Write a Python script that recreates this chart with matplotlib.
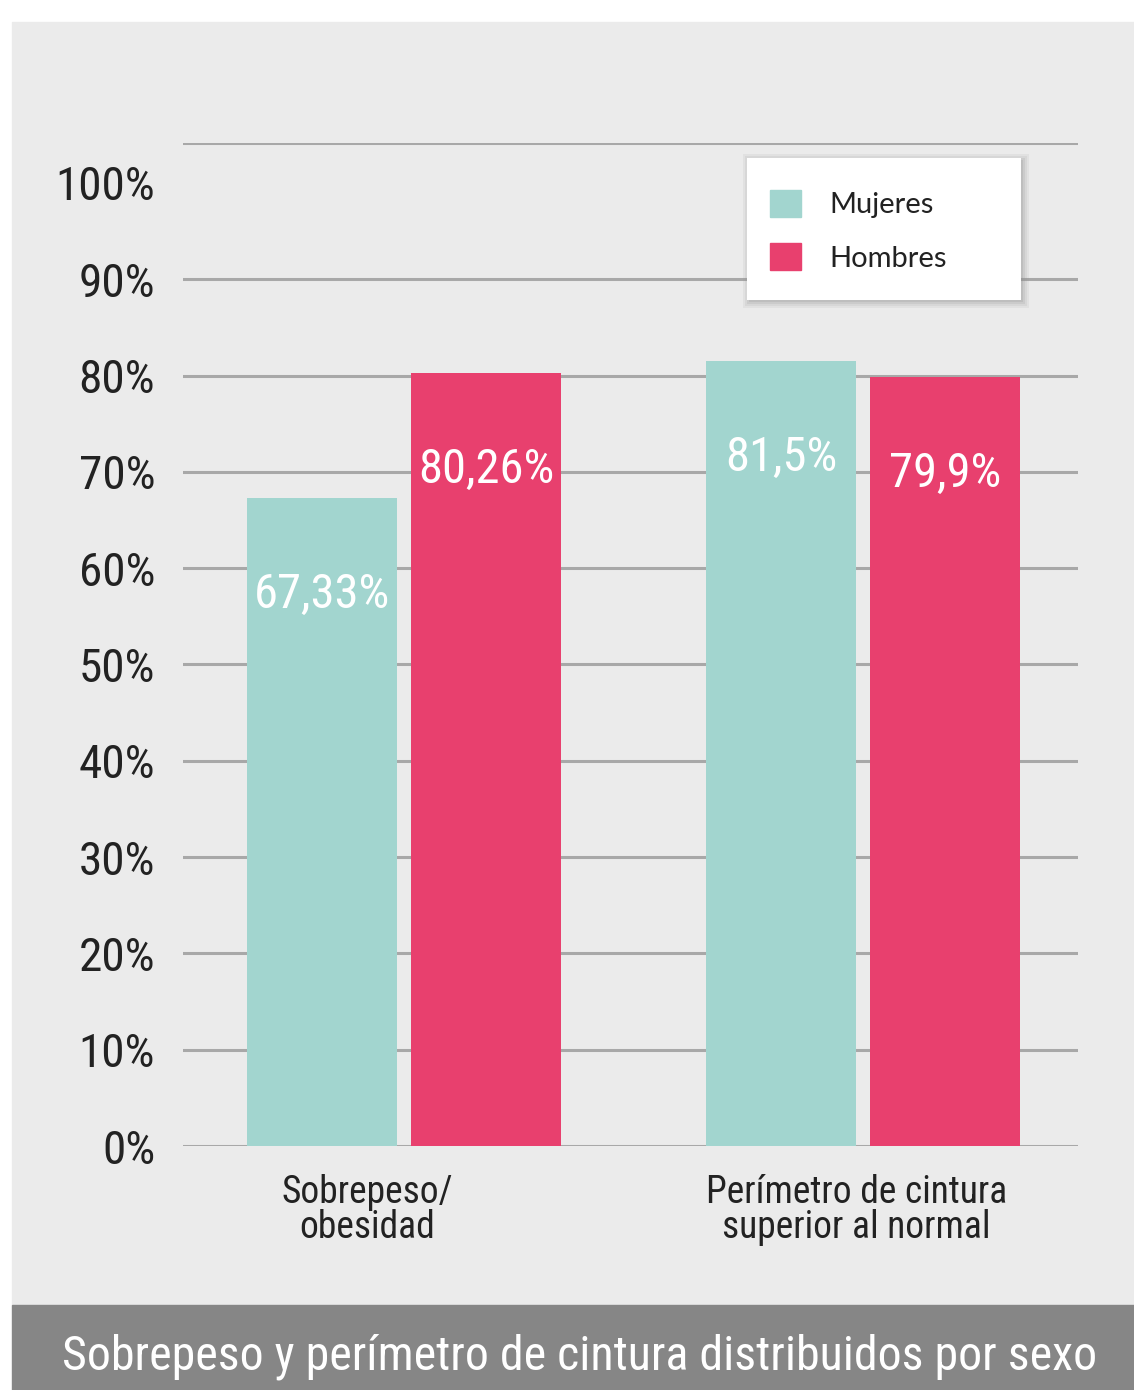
import matplotlib
matplotlib.use("Agg")
import matplotlib.pyplot as plt
from matplotlib import font_manager
from matplotlib.patches import Rectangle, Patch

# data
categorias = ["Sobrepeso/\nobesidad", "Perímetro de cintura\nsuperior al normal"]
mujeres = [67.33, 81.5]
hombres = [80.26, 79.9]
etiquetas_mujeres = ["67,33%", "81,5%"]
etiquetas_hombres = ["80,26%", "79,9%"]
yticks = [0, 10, 20, 30, 40, 50, 60, 70, 80, 90, 100]
titulo = "Sobrepeso y perímetro de cintura distribuidos por sexo"

# fonts
names = sorted({f.name for f in font_manager.fontManager.ttflist})
cond = [n for n in ["Roboto Condensed", "Liberation Sans Narrow"] if n in names]
COND = cond[0] if cond else "Roboto"

c_muj = "#a2d5cf"
c_hom = "#e8406e"
bg = "#ebebeb"
grid_c = "#a8a8a8"

W, H = 1134, 1390
fig = plt.figure(figsize=(W / 100, H / 100), dpi=100)
fig.patch.set_facecolor("white")

def fx(px):
    return px / W

def fy(py):
    return 1 - py / H

# background panel and bottom banner
fig.patches.append(Rectangle((fx(12), fy(1305)), fx(W - 12), (1305 - 22) / H,
                             transform=fig.transFigure, color=bg, zorder=-10))
fig.patches.append(Rectangle((fx(12), 0), fx(W - 12), (H - 1305) / H,
                             transform=fig.transFigure, color="#868686", zorder=-10))

ytop = 104.15
ax = fig.add_axes([fx(183), fy(1146), fx(1078 - 183), (1146 - 143) / H])
ax.set_facecolor("none")
ax.set_ylim(0, ytop)
ax.set_xlim(-0.4815, 1.468)

w = 0.327
off = 0.179
x = list(range(len(categorias)))
b1 = ax.bar([i - off for i in x], mujeres, width=w, color=c_muj, zorder=3, label="Mujeres")
b2 = ax.bar([i + off for i in x], hombres, width=w, color=c_hom, zorder=3, label="Hombres")

for g in yticks[:-1] + [ytop]:
    ax.axhline(g, color=grid_c, lw=2.2, zorder=1)

for bars, labs in [(b1, etiquetas_mujeres), (b2, etiquetas_hombres)]:
    for b, t in zip(bars, labs):
        ax.text(b.get_x() + b.get_width() / 2, b.get_height() - 10.1, t,
                ha="center", va="center", color="white", fontsize=35,
                family=COND, zorder=4)

for s in ax.spines.values():
    s.set_visible(False)
ax.set_yticks(yticks)
ax.set_yticklabels([f"{v}%" for v in yticks], family=COND, fontsize=34, color="#222222")
ax.tick_params(axis="y", length=0, pad=20)
ax.set_xticks([-0.08, 0.985])
ax.set_xticklabels(categorias, family=COND, fontsize=27, color="#222222", linespacing=0.95)
ax.tick_params(axis="x", length=0, pad=20)

# legend box with soft shadow
for k, a in enumerate([0.10, 0.12, 0.16, 0.22]):
    d = 8 - 2 * k
    fig.patches.append(Rectangle((fx(747 - d + 4), fy(300 + d)), fx(1021 - 747 + 2 * d - 4),
                                 (300 - 158 + 2 * d - 4) / H, transform=fig.transFigure,
                                 facecolor="#909090", edgecolor="none", alpha=a, zorder=4.9))
box = Rectangle((fx(747), fy(300)), fx(1021 - 747), (300 - 158) / H,
                transform=fig.transFigure, facecolor="white", edgecolor="none", zorder=5)
fig.patches.append(box)
leg = fig.legend(handles=[Patch(color=c_muj), Patch(color=c_hom)], labels=["Mujeres", "Hombres"],
                 loc="upper left", bbox_to_anchor=(fx(770), fy(190)), frameon=False,
                 prop={"family": "Lato", "size": 21}, handlelength=1.05, handleheight=1.05,
                 handletextpad=1.0, labelspacing=0.85, borderpad=0, borderaxespad=0)
leg.set_zorder(6)
for t in leg.get_texts():
    t.set_color("#222222")

fig.text(fx(580), fy(1357), titulo, ha="center", va="center", color="white",
         fontsize=34.5, family=COND)

fig.savefig("out.png", dpi=100)
